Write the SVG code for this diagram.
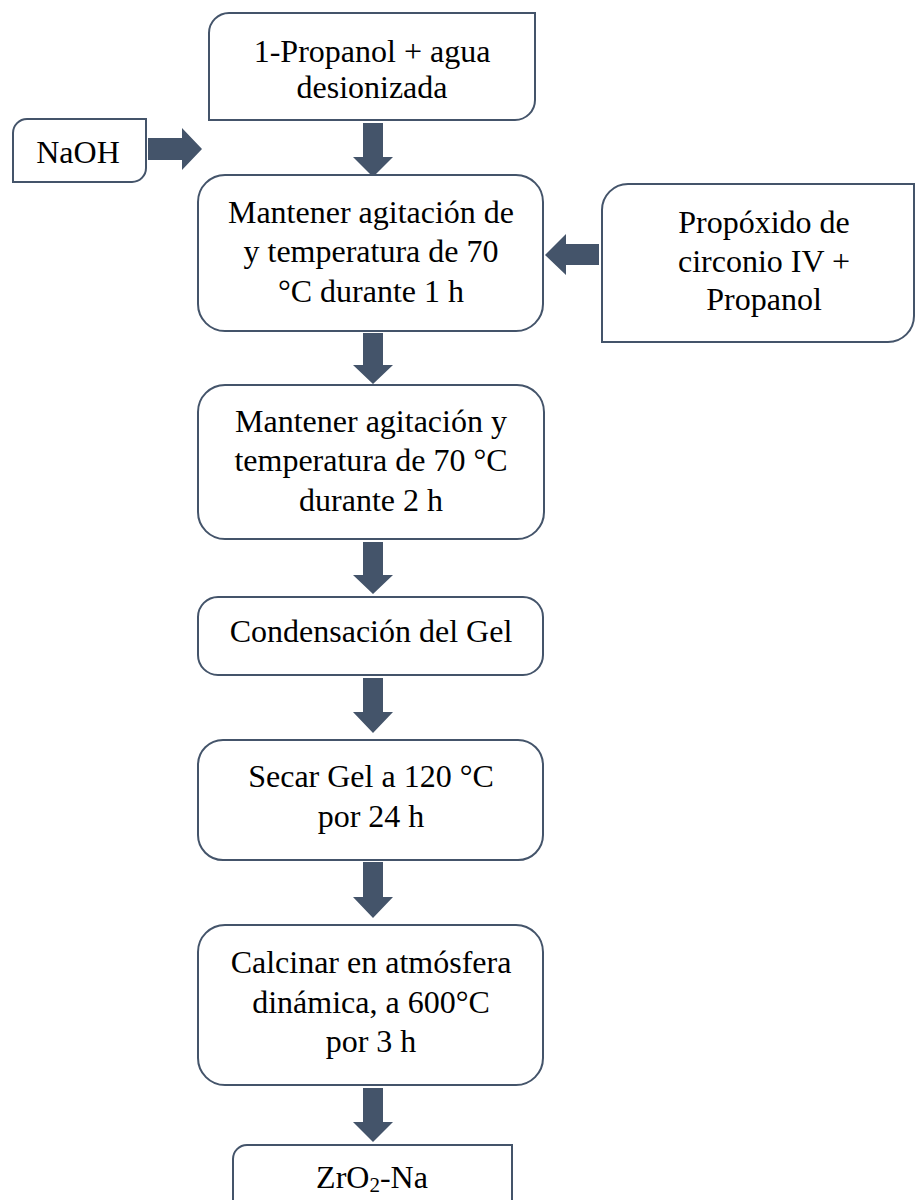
<svg xmlns="http://www.w3.org/2000/svg" width="916" height="1200" viewBox="0 0 916 1200">
  <style>
    .box { fill: #ffffff; stroke: #44546A; stroke-width: 2; }
    .arrow { fill: #44546A; stroke: none; }
    .lbl { font-family: "Liberation Serif", "Times New Roman", serif; font-size: 32px; fill: #000000; text-anchor: middle; }
  </style>
  <rect x="0" y="0" width="916" height="1200" fill="#ffffff"/>

  <!-- connectors: block arrows -->
  <g id="connectors">
    <path class="arrow" d="M148,138 H182 V128 L202,149 L182,170 V160 H148 Z"/>
    <path class="arrow" d="M599,244 H566 V234 L545,255 L566,275 V265 H599 Z"/>
    <path class="arrow" d="M363,123 H383 V157 H393 L373,177 L353,157 H363 Z"/>
    <path class="arrow" d="M363,333 H383 V365 H393 L373,384 L353,365 H363 Z"/>
    <path class="arrow" d="M363,542 H383 V575 H393 L373,594 L353,575 H363 Z"/>
    <path class="arrow" d="M363,678 H383 V712 H393 L373,733 L353,712 H363 Z"/>
    <path class="arrow" d="M363,862 H383 V897 H393 L373,918 L353,897 H363 Z"/>
    <path class="arrow" d="M363,1088 H383 V1122 H393 L373,1142 L353,1122 H363 Z"/>
  </g>

  <g id="n-propanol-agua">
    <path class="box" d="M209,33 A20,20 0 0 1 229,13 H535 V100 A20,20 0 0 1 515,120 H209 Z"/>
    <text class="lbl" x="372" y="62">1-Propanol + agua</text>
    <text class="lbl" x="372" y="98">desionizada</text>
  </g>

  <g id="n-naoh">
    <path class="box" d="M13,133 A14,14 0 0 1 27,119 H146 V168 A14,14 0 0 1 132,182 H13 Z"/>
    <text class="lbl" x="78" y="163">NaOH</text>
  </g>

  <g id="n-propoxido">
    <path class="box" d="M602,210 A26,26 0 0 1 628,184 H914 V316 A26,26 0 0 1 888,342 H602 Z"/>
    <text class="lbl" x="764" y="233">Propóxido de</text>
    <text class="lbl" x="764" y="272">circonio IV +</text>
    <text class="lbl" x="764" y="310">Propanol</text>
  </g>

  <g id="n-agitacion-1h">
    <rect class="box" x="198" y="175" width="345" height="156" rx="27" ry="27"/>
    <text class="lbl" x="371" y="223">Mantener agitación de</text>
    <text class="lbl" x="371" y="262">y temperatura de 70</text>
    <text class="lbl" x="371" y="302">°C durante 1 h</text>
  </g>

  <g id="n-agitacion-2h">
    <rect class="box" x="198" y="385" width="346" height="154" rx="27" ry="27"/>
    <text class="lbl" x="371" y="432">Mantener agitación y</text>
    <text class="lbl" x="371" y="471">temperatura de 70 °C</text>
    <text class="lbl" x="371" y="511">durante 2 h</text>
  </g>

  <g id="n-condensacion">
    <rect class="box" x="198" y="597" width="345" height="78" rx="20" ry="20"/>
    <text class="lbl" x="371" y="642">Condensación del Gel</text>
  </g>

  <g id="n-secar">
    <rect class="box" x="198" y="740" width="345" height="120" rx="25" ry="25"/>
    <text class="lbl" x="371" y="787">Secar Gel a 120 °C</text>
    <text class="lbl" x="371" y="827">por 24 h</text>
  </g>

  <g id="n-calcinar">
    <rect class="box" x="198" y="925" width="345" height="160" rx="27" ry="27"/>
    <text class="lbl" x="371" y="973">Calcinar en atmósfera</text>
    <text class="lbl" x="371" y="1013">dinámica, a 600°C</text>
    <text class="lbl" x="371" y="1052">por 3 h</text>
  </g>

  <g id="n-zro2-na">
    <path class="box" d="M233,1212 V1159 A14,14 0 0 1 247,1145 H512 V1212"/>
    <text class="lbl" x="372" y="1188">ZrO<tspan font-size="21" dy="4">2</tspan><tspan dy="-4">-Na</tspan></text>
  </g>
</svg>
